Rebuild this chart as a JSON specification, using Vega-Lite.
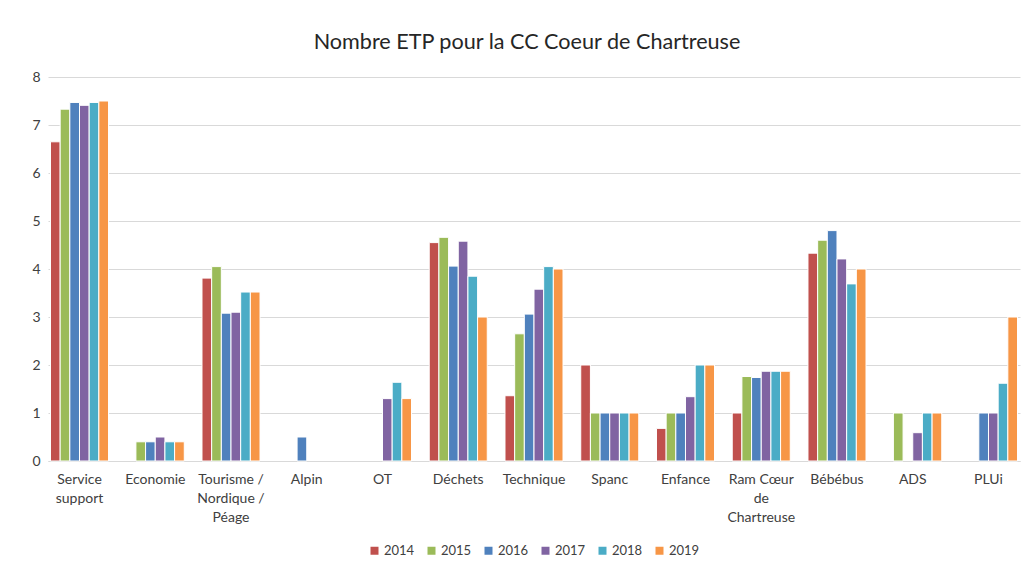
{
  "$schema": "https://vega.github.io/schema/vega-lite/v6.json",
  "width": 972,
  "height": 384,
  "autosize": {"type": "none"},
  "padding": {"left": 48, "top": 77, "right": 13, "bottom": 108},
  "background": "white",
  "title": {
    "text": "Nombre ETP pour la CC Coeur de Chartreuse",
    "font": "Lato",
    "fontSize": 21.6,
    "fontWeight": "normal",
    "color": "#262626",
    "anchor": "middle",
    "offset": 16,
    "dx": -7
  },
  "config": {
    "view": {"stroke": null},
    "font": "Lato",
    "axis": {"labelFont": "Lato", "labelColor": "#404040", "labelFontSize": 14}
  },
  "data": {
    "values": [
      {"categorie": "Service support", "annee": "2014", "etp": 6.65},
      {"categorie": "Service support", "annee": "2015", "etp": 7.33},
      {"categorie": "Service support", "annee": "2016", "etp": 7.47},
      {"categorie": "Service support", "annee": "2017", "etp": 7.41},
      {"categorie": "Service support", "annee": "2018", "etp": 7.47},
      {"categorie": "Service support", "annee": "2019", "etp": 7.5},
      {"categorie": "Economie", "annee": "2015", "etp": 0.4},
      {"categorie": "Economie", "annee": "2016", "etp": 0.4},
      {"categorie": "Economie", "annee": "2017", "etp": 0.5},
      {"categorie": "Economie", "annee": "2018", "etp": 0.4},
      {"categorie": "Economie", "annee": "2019", "etp": 0.4},
      {"categorie": "Tourisme / Nordique / Péage", "annee": "2014", "etp": 3.81},
      {"categorie": "Tourisme / Nordique / Péage", "annee": "2015", "etp": 4.05},
      {"categorie": "Tourisme / Nordique / Péage", "annee": "2016", "etp": 3.08},
      {"categorie": "Tourisme / Nordique / Péage", "annee": "2017", "etp": 3.1},
      {"categorie": "Tourisme / Nordique / Péage", "annee": "2018", "etp": 3.52},
      {"categorie": "Tourisme / Nordique / Péage", "annee": "2019", "etp": 3.52},
      {"categorie": "Alpin", "annee": "2016", "etp": 0.5},
      {"categorie": "OT", "annee": "2017", "etp": 1.3},
      {"categorie": "OT", "annee": "2018", "etp": 1.64},
      {"categorie": "OT", "annee": "2019", "etp": 1.3},
      {"categorie": "Déchets", "annee": "2014", "etp": 4.55},
      {"categorie": "Déchets", "annee": "2015", "etp": 4.66},
      {"categorie": "Déchets", "annee": "2016", "etp": 4.06},
      {"categorie": "Déchets", "annee": "2017", "etp": 4.58},
      {"categorie": "Déchets", "annee": "2018", "etp": 3.85},
      {"categorie": "Déchets", "annee": "2019", "etp": 3.0},
      {"categorie": "Technique", "annee": "2014", "etp": 1.36},
      {"categorie": "Technique", "annee": "2015", "etp": 2.65},
      {"categorie": "Technique", "annee": "2016", "etp": 3.06},
      {"categorie": "Technique", "annee": "2017", "etp": 3.58},
      {"categorie": "Technique", "annee": "2018", "etp": 4.05},
      {"categorie": "Technique", "annee": "2019", "etp": 4.0},
      {"categorie": "Spanc", "annee": "2014", "etp": 2.0},
      {"categorie": "Spanc", "annee": "2015", "etp": 1.0},
      {"categorie": "Spanc", "annee": "2016", "etp": 1.0},
      {"categorie": "Spanc", "annee": "2017", "etp": 1.0},
      {"categorie": "Spanc", "annee": "2018", "etp": 1.0},
      {"categorie": "Spanc", "annee": "2019", "etp": 1.0},
      {"categorie": "Enfance", "annee": "2014", "etp": 0.68},
      {"categorie": "Enfance", "annee": "2015", "etp": 1.0},
      {"categorie": "Enfance", "annee": "2016", "etp": 1.0},
      {"categorie": "Enfance", "annee": "2017", "etp": 1.34},
      {"categorie": "Enfance", "annee": "2018", "etp": 2.0},
      {"categorie": "Enfance", "annee": "2019", "etp": 2.0},
      {"categorie": "Ram Cœur de Chartreuse", "annee": "2014", "etp": 1.0},
      {"categorie": "Ram Cœur de Chartreuse", "annee": "2015", "etp": 1.76},
      {"categorie": "Ram Cœur de Chartreuse", "annee": "2016", "etp": 1.74},
      {"categorie": "Ram Cœur de Chartreuse", "annee": "2017", "etp": 1.87},
      {"categorie": "Ram Cœur de Chartreuse", "annee": "2018", "etp": 1.87},
      {"categorie": "Ram Cœur de Chartreuse", "annee": "2019", "etp": 1.87},
      {"categorie": "Bébébus", "annee": "2014", "etp": 4.33},
      {"categorie": "Bébébus", "annee": "2015", "etp": 4.6},
      {"categorie": "Bébébus", "annee": "2016", "etp": 4.8},
      {"categorie": "Bébébus", "annee": "2017", "etp": 4.21},
      {"categorie": "Bébébus", "annee": "2018", "etp": 3.69},
      {"categorie": "Bébébus", "annee": "2019", "etp": 4.0},
      {"categorie": "ADS", "annee": "2015", "etp": 1.0},
      {"categorie": "ADS", "annee": "2017", "etp": 0.59},
      {"categorie": "ADS", "annee": "2018", "etp": 1.0},
      {"categorie": "ADS", "annee": "2019", "etp": 1.0},
      {"categorie": "PLUi", "annee": "2016", "etp": 1.0},
      {"categorie": "PLUi", "annee": "2017", "etp": 1.0},
      {"categorie": "PLUi", "annee": "2018", "etp": 1.62},
      {"categorie": "PLUi", "annee": "2019", "etp": 3.0}
    ]
  },
  "mark": {"type": "bar", "stroke": "white", "strokeWidth": 1},
  "encoding": {
    "x": {
      "field": "categorie",
      "type": "nominal",
      "sort": ["Service support", "Economie", "Tourisme / Nordique / Péage", "Alpin", "OT", "Déchets", "Technique", "Spanc", "Enfance", "Ram Cœur de Chartreuse", "Bébébus", "ADS", "PLUi"],
      "scale": {"paddingInner": 0.234, "paddingOuter": 0.033},
      "axis": {
        "title": null,
        "labelAngle": 0,
        "ticks": false,
        "domainColor": "#D9D9D9",
        "labelPadding": 11,
        "labelLineHeight": 19,
        "labelBaseline": "top",
        "labelLimit": 90,
        "labelExpr": "datum.value == 'Service support' ? ['Service', 'support'] : datum.value == 'Tourisme / Nordique / Péage' ? ['Tourisme /', 'Nordique /', 'Péage'] : datum.value == 'Ram Cœur de Chartreuse' ? ['Ram Cœur', 'de', 'Chartreuse'] : datum.value"
      }
    },
    "xOffset": {"field": "annee", "type": "nominal", "scale": {"paddingInner": 0}},
    "y": {
      "field": "etp",
      "type": "quantitative",
      "scale": {"domain": [0, 8]},
      "axis": {
        "title": null,
        "values": [0, 1, 2, 3, 4, 5, 6, 7, 8],
        "labelOverlap": false,
        "domain": false,
        "ticks": false,
        "gridColor": "#D9D9D9",
        "labelPadding": 8
      }
    },
    "color": {
      "field": "annee",
      "type": "nominal",
      "scale": {
        "domain": ["2014", "2015", "2016", "2017", "2018", "2019"],
        "range": ["#C0504D", "#9BBB59", "#4F81BD", "#8064A2", "#4BACC6", "#F79646"]
      },
      "legend": {
        "title": null,
        "orient": "none",
        "direction": "horizontal",
        "legendX": 320,
        "legendY": 467,
        "symbolType": "square",
        "symbolSize": 64,
        "symbolStrokeWidth": 0,
        "labelFontSize": 13,
        "labelColor": "#404040",
        "labelFont": "Lato",
        "columnSpacing": 11,
        "labelOffset": 3
      }
    }
  }
}
